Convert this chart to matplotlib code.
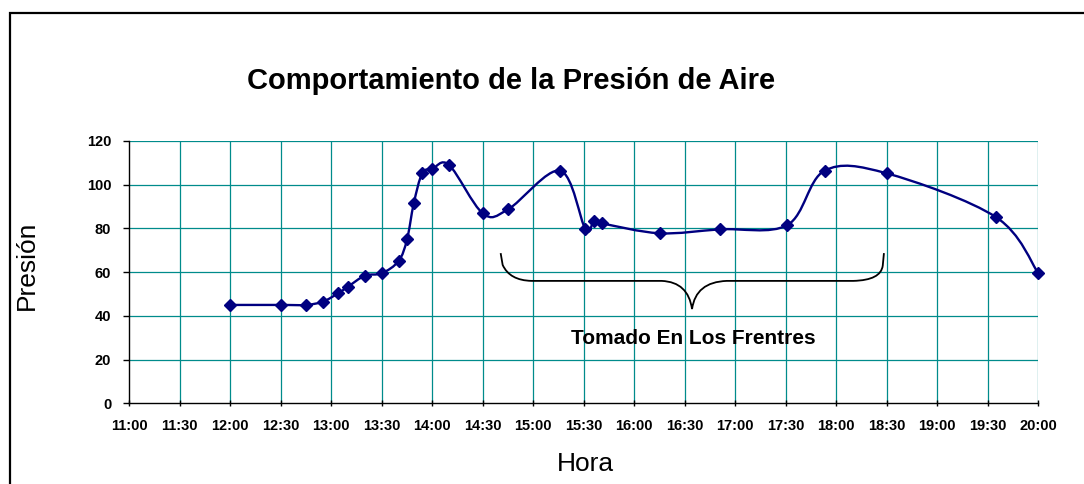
import matplotlib
matplotlib.use("Agg")
import matplotlib.pyplot as plt
from matplotlib.path import Path
from matplotlib.patches import PathPatch, Rectangle
import numpy as np

plt.rcParams['font.family'] = ['Liberation Sans', 'DejaVu Sans']

# ---- data ----
times = ["12:00", "12:30", "12:45", "12:55", "13:04", "13:10", "13:20", "13:30",
         "13:40", "13:45", "13:49", "13:54", "14:00", "14:10", "14:30", "14:45",
         "15:16", "15:31", "15:36", "15:41", "16:15", "16:51", "17:31", "17:53",
         "18:30", "19:35", "20:00"]
presion = [45.0, 45.0, 45.0, 46.5, 50.3, 53.4, 58.4, 59.5,
           65.1, 75.0, 91.5, 105.2, 107.2, 109.0, 86.9, 88.7,
           106.4, 79.6, 83.6, 82.3, 77.8, 79.6, 81.6, 106.4,
           105.2, 85.1, 59.5]
tick_labels = ["11:00", "11:30", "12:00", "12:30", "13:00", "13:30", "14:00",
               "14:30", "15:00", "15:30", "16:00", "16:30", "17:00", "17:30",
               "18:00", "18:30", "19:00", "19:30", "20:00"]
y_ticks = [0, 20, 40, 60, 80, 100, 120]

title = "Comportamiento de la Presión de Aire"
xlabel = "Hora"
ylabel = "Presión"
note = "Tomado En Los Frentres"


def to_hours(s):
    h, m = s.split(":")
    return int(h) + int(m) / 60.0


x = np.array([to_hours(t) for t in times])
y = np.array(presion)
xt = [to_hours(t) for t in tick_labels]

W, H = 1084, 484
fig = plt.figure(figsize=(W / 100, H / 100), dpi=100)
fig.patch.set_facecolor("white")

# outer chart frame (clipped at right/bottom as in the reference)
fig.patches.append(Rectangle((9.5 / W, -0.2), 1.3, 1 - 12.7 / H + 0.2,
                             transform=fig.transFigure, fill=False,
                             edgecolor="black", linewidth=1.6))

ax = fig.add_axes([129.3 / W, 1 - 403.3 / H, (1038.3 - 129.3) / W, (403.3 - 141.0) / H])
ax.set_xlim(xt[0], xt[-1])
ax.set_ylim(0, 120)

# grid
grid_c = "#008B8B"
for v in xt[1:]:
    ax.axvline(v, color=grid_c, lw=0.9, zorder=1)
for v in y_ticks[1:]:
    ax.axhline(v, color=grid_c, lw=0.9, zorder=1)

for s in ["top", "right"]:
    ax.spines[s].set_visible(False)
for s in ["left", "bottom"]:
    ax.spines[s].set_color("black")
    ax.spines[s].set_linewidth(1.0)
    ax.spines[s].set_zorder(3)

ax.set_xticks(xt)
ax.set_xticklabels(tick_labels)
ax.set_yticks(y_ticks)
ax.tick_params(axis="x", direction="inout", length=5, width=1, pad=8.5,
               labelsize=10.5)
ax.tick_params(axis="y", direction="out", length=4, width=1, pad=9,
               labelsize=10.5)
for lab in ax.get_xticklabels() + ax.get_yticklabels():
    lab.set_fontweight("bold")

# smoothed line (Excel-style Catmull-Rom Bezier)
pts = np.column_stack([x, y])
n = len(pts)
verts = [tuple(pts[0])]
codes = [Path.MOVETO]
for i in range(n - 1):
    p0 = pts[i - 1] if i > 0 else pts[i]
    p1 = pts[i]
    p2 = pts[i + 1]
    p3 = pts[i + 2] if i + 2 < n else pts[i + 1]
    c1 = p1 + (p2 - p0) / 6.0
    c2 = p2 - (p3 - p1) / 6.0
    verts += [tuple(c1), tuple(c2), tuple(p2)]
    codes += [Path.CURVE4] * 3
ax.add_patch(PathPatch(Path(verts, codes), fill=False, edgecolor="#000080",
                       lw=1.7, zorder=4))
ax.plot(x, y, linestyle="none", marker="D", markersize=6.3,
        color="#000080", zorder=5, clip_on=False)

# curly brace annotation (minutes after 11:00, pressure units)
def hm(m):
    return 11 + m / 60.0

b_verts = [
    (hm(220.6), 68.7), (hm(221.8), 63.3),
    (hm(226.0), 56.2), (hm(239.0), 56.0),
    (hm(316.3), 56.0),
    (hm(332.0), 55.5), (hm(334.3), 43.1),
    (hm(334.3), 43.1),
    (hm(336.5), 55.5), (hm(354.9), 56.0),
    (hm(430.1), 56.0),
    (hm(446.5), 56.3), (hm(447.6), 63.0),
    (hm(448.3), 68.7),
]
b_codes = [Path.MOVETO, Path.LINETO,
           Path.CURVE3, Path.CURVE3,
           Path.LINETO,
           Path.CURVE3, Path.CURVE3,
           Path.MOVETO,
           Path.CURVE3, Path.CURVE3,
           Path.LINETO,
           Path.CURVE3, Path.CURVE3,
           Path.LINETO]
ax.add_patch(PathPatch(Path(b_verts, b_codes), fill=False, edgecolor="black",
                       lw=1.3, zorder=4))
ax.text(hm(334.8), 27.0, note, ha="center", va="baseline", fontsize=15,
        fontweight="bold", color="black", zorder=6)

# titles and labels
fig.text(511 / W, 1 - 89 / H, title, ha="center", va="baseline",
         fontsize=21, fontweight="bold")
fig.text(585 / W, 1 - 470.7 / H, xlabel, ha="center", va="baseline",
         fontsize=19)
fig.text(27 / W, 1 - 265 / H, ylabel, ha="center", va="center",
         rotation=90, fontsize=19)

fig.savefig("out.png", dpi=100)
